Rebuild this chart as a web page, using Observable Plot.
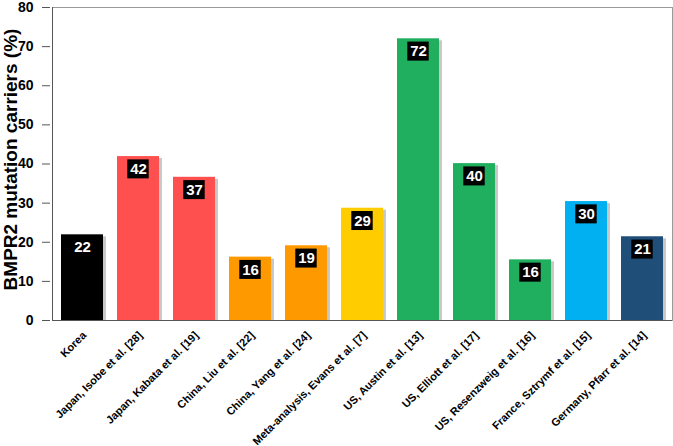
<!DOCTYPE html>
<html><head><meta charset="utf-8">
<script src="https://cdn.jsdelivr.net/npm/d3@7"></script>
<script src="https://cdn.jsdelivr.net/npm/@observablehq/plot@0.6"></script>
<style>
body{margin:0;background:#fff;}
svg{font-family:"Liberation Sans",Arial,sans-serif;}
</style>
</head><body><div id="chart"></div>
<script>
const studies = [
  "Korea",
  "Japan, Isobe et al. [28]",
  "Japan, Kabata et al. [19]",
  "China, Liu et al. [22]",
  "China, Yang et al. [24]",
  "Meta-analysis, Evans et al. [7]",
  "US, Austin et al. [13]",
  "US, Elliott et al. [17]",
  "US, Resenzweig et al. [16]",
  "France, Sztrymf et al. [15]",
  "Germany, Pfarr et al. [14]"
];
const carriers = [21.9, 41.9, 36.6, 16.2, 19.1, 28.7, 72.0, 40.1, 15.5, 30.4, 21.4];
const valueLabels = ["22", "42", "37", "16", "19", "29", "72", "40", "16", "30", "21"];
const barColors = ["#000000", "#FF5050", "#FF5050", "#FF9900", "#FF9900", "#FFCC00",
                   "#20AE5F", "#20AE5F", "#20AE5F", "#00B0F0", "#1F4E79"];
const yTicks = [0, 10, 20, 30, 40, 50, 60, 70, 80];
const yLabel = "BMPR2 mutation carriers (%)";

const data = studies.map((s, i) => ({study: s, carriers: carriers[i], label: valueLabels[i], color: barColors[i]}));

const chart = Plot.plot({
  width: 673,
  height: 446,
  marginLeft: 52,
  marginRight: 1,
  marginTop: 7,
  marginBottom: 126,
  style: {fontFamily: "'Liberation Sans', Arial, sans-serif", background: "#fff"},
  x: {domain: studies, paddingInner: 0.243, paddingOuter: 0.14, label: null},
  y: {domain: [0, 80], label: null},
  marks: [
    Plot.frame({stroke: "#9a9a9a"}),
    Plot.barY(data, {x: "study", y: "carriers", fill: "#9a9a9a", fillOpacity: 0.55, dx: 3, dy: 2, insetBottom: 2}),
    Plot.barY(data, {x: "study", y: "carriers", fill: "color"}),
    Plot.barY(data, {x: "study", y1: "carriers", y2: "carriers", fill: "black",
      insetTop: 3.3, insetBottom: -22.3, insetLeft: 10.3, insetRight: 10.3}),
    Plot.text(data, {x: "study", y: "carriers", text: "label", dy: 12.8, fill: "white",
      fontSize: 15, fontWeight: "bold"}),
    Plot.axisY({ticks: yTicks, tickSize: 8, tickPadding: 9, fontSize: 14, fontWeight: "bold",
      stroke: "#555", label: null, dx: -2}),
    Plot.axisX({tickRotate: -45, tickSize: 0, tickPadding: 13, dx: 2, fontSize: 11, fontWeight: "bold", label: null}),
    Plot.ruleY([0], {stroke: "#555"}),
    Plot.frame({anchor: "left", stroke: "#555"}),
    Plot.text([yLabel], {frameAnchor: "left", textAnchor: "middle", dx: -42, dy: -4.5, rotate: -90, fontSize: 19,
      fontWeight: "bold", ariaLabel: "ylabel"})
  ]
});
document.getElementById("chart").appendChild(chart);

// italicize the gene name in the y label
const lab = chart.querySelector('g[aria-label="ylabel"] text');
if (lab) {
  lab.textContent = "";
  const ns = "http://www.w3.org/2000/svg";
  const t1 = document.createElementNS(ns, "tspan");
  t1.setAttribute("font-style", "italic");
  t1.style.fontStyle = "italic";
  t1.textContent = "BMPR2";
  const t2 = document.createElementNS(ns, "tspan");
  t2.textContent = " mutation carriers (%)";
  lab.appendChild(t1); lab.appendChild(t2);
}
</script>
</body></html>
